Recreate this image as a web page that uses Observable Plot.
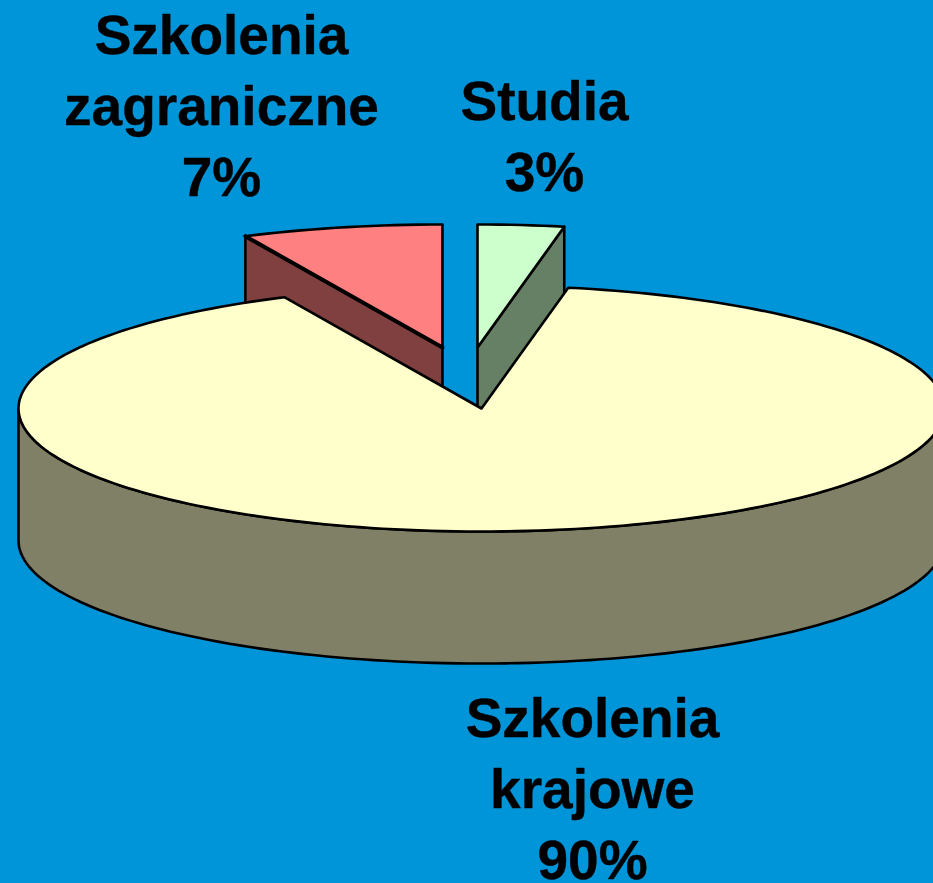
<!DOCTYPE html>
<html>
<head>
<meta charset="utf-8">
<script src="https://cdn.jsdelivr.net/npm/d3@7"></script>
<script src="https://cdn.jsdelivr.net/npm/@observablehq/plot@0.6"></script>
<style>html,body{margin:0;padding:0;background:#0094d9;overflow:hidden}svg{display:block}</style>
</head>
<body>
<div id="chart"></div>
<script>
const categories = ["Studia", "Szkolenia krajowe", "Szkolenia zagraniczne"];
const shares = [3, 90, 7];
const labels = ["Studia\n3%", "Szkolenia\nkrajowe\n90%", "Szkolenia\nzagraniczne\n7%"];
const topColors = ["#ccffcc", "#ffffcc", "#ff8080"];
const sideColors = ["#668066", "#808066", "#804040"];

// Drawing set-up of the tilted pie, in the plot's own coordinate units
const W = 933, H = 883;
const RX = 463, RY = 123, DEPTH = 132;
const centers = [[477, 347], [481, 408], [442, 347]];
const labelAnchors = [[544, 132], [592, 785], [221, 102]];
const BG = "#0094d9", EDGE = "#000";

let acc = 0;
const slices = shares.map((s, i) => {
  const a0 = acc / 100 * 360; acc += s; const a1 = acc / 100 * 360;
  return {name: categories[i], a0, a1, cx: centers[i][0], cy: centers[i][1]};
});
const rim = (sl, t, drop = 0) => {
  const r = t * Math.PI / 180;
  return {x: sl.cx + RX * Math.sin(r), y: sl.cy - RY * Math.cos(r) + drop};
};
const arc = (sl, a, b, drop = 0) => {
  const n = Math.max(2, Math.ceil(Math.abs(b - a) / 1.5));
  return d3.range(n + 1).map(k => rim(sl, a + (b - a) * k / n, drop));
};
const topFace = sl => {
  const apex = {x: sl.cx, y: sl.cy};
  return [apex, ...arc(sl, sl.a0, sl.a1), apex];
};
const cutWall = (sl, t) => {
  const c = rim(sl, t), d = rim(sl, t, DEPTH);
  return [{x: sl.cx, y: sl.cy}, c, d, {x: sl.cx, y: sl.cy + DEPTH}, {x: sl.cx, y: sl.cy}];
};
const outerWall = sl => {
  const up = arc(sl, 90, 270), down = arc(sl, 270, 90, DEPTH);
  return [...up, ...down, up[0]];
};
const face = (rows, fill, strokeWidth = 2.6) => Plot.line(rows, {
  x: "x", y: "y", fill, stroke: EDGE, strokeWidth,
  strokeLinejoin: "round", curve: "linear"
});

const [studia, krajowe, zagr] = slices;
const plot = Plot.plot({
  width: W, height: H,
  margin: 0,
  x: {domain: [0, W], range: [0, W], axis: null},
  y: {domain: [0, H], range: [0, H], axis: null},
  style: {background: BG},
  marks: [
    face(cutWall(studia, studia.a1), sideColors[0]),
    face(topFace(studia), topColors[0]),
    face(cutWall(zagr, zagr.a0), sideColors[2]),
    face(topFace(zagr), topColors[2]),
    face([{x: zagr.cx, y: zagr.cy}, rim(zagr, zagr.a0)], "none", 4),
    face(outerWall(krajowe), sideColors[1]),
    face(topFace(krajowe), topColors[1]),
    Plot.text(labels, {
      x: (d, i) => labelAnchors[i][0],
      y: (d, i) => labelAnchors[i][1],
      text: d => d,
      fontFamily: "Liberation Sans",
      fontWeight: 700,
      fontSize: 55,
      lineHeight: 1.29,
      textAnchor: "middle",
      fill: "#000",
      stroke: "#000",
      strokeWidth: 0.4
    })
  ]
});
document.getElementById("chart").appendChild(plot);
</script>
</body>
</html>
